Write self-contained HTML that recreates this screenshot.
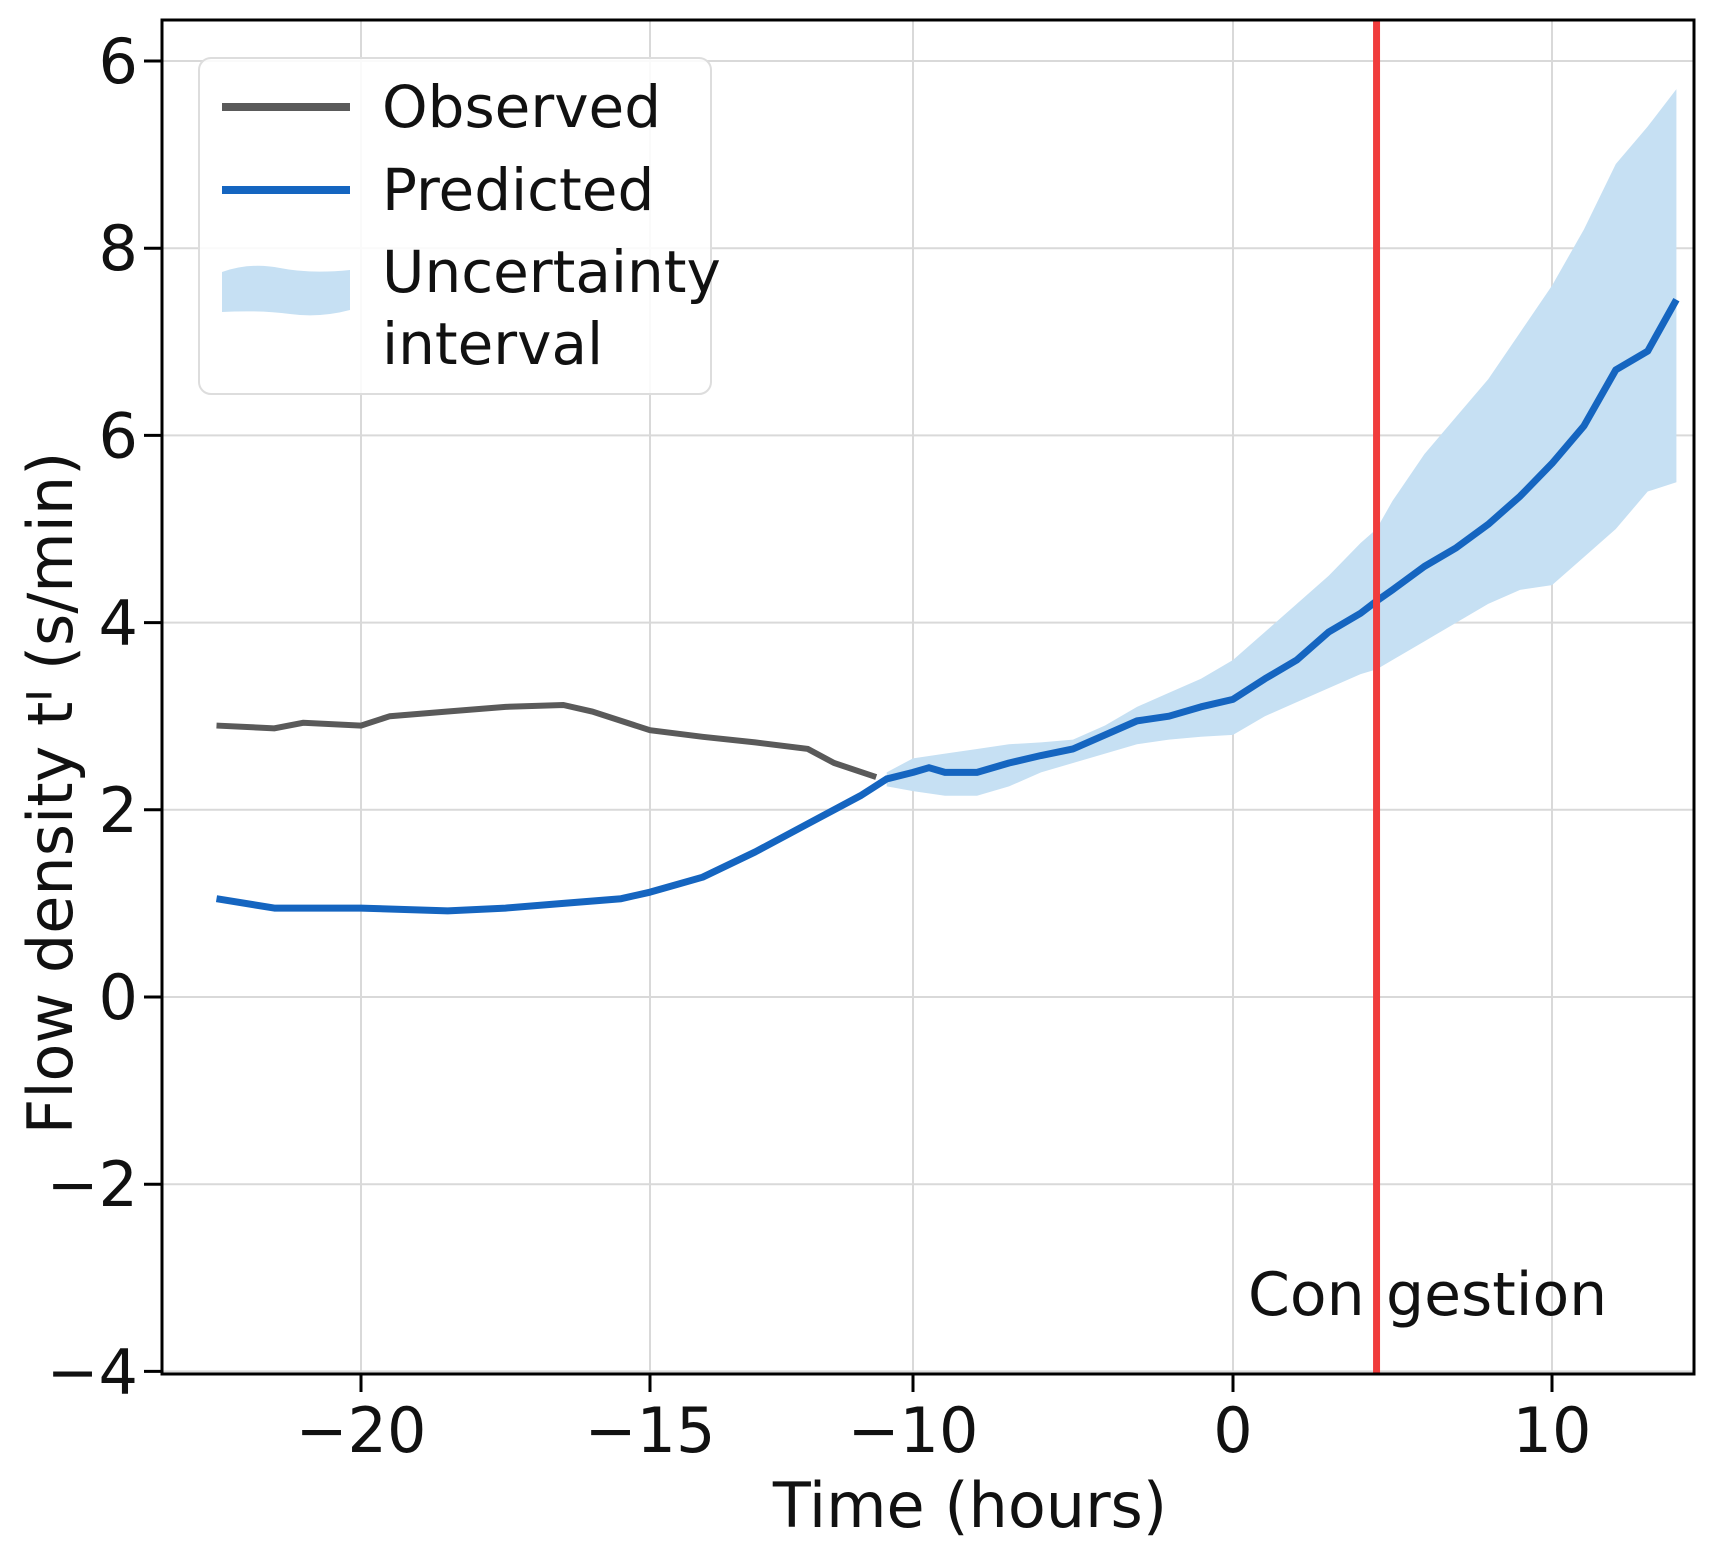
<!DOCTYPE html>
<html><head><meta charset="utf-8"><style>
body{margin:0;background:#fff}
svg text{font-family:"DejaVu Sans","Liberation Sans",sans-serif;fill:#111}
</style></head><body>
<svg width="1714" height="1554">
<g id="grid"></g>
<g id="marks"></g>
<g id="axes"></g>
<rect x="162" y="20" width="1532" height="1354" fill="none" stroke="#000" stroke-width="3"/>
<g>
<rect x="199" y="58" width="512" height="336" rx="12" fill="#fff" fill-opacity="0.85" stroke="#ddd" stroke-width="2"/>
<line x1="222" y1="107" x2="350" y2="107" stroke="#5a5a5a" stroke-width="8"/>
<text x="382" y="127" font-size="58">Observed</text>
<line x1="222" y1="190" x2="350" y2="190" stroke="#1565c0" stroke-width="8"/>
<text x="382" y="210" font-size="58">Predicted</text>
<path d="M222 272 Q250 262 280 268 T350 270 L350 310 Q320 318 290 314 T222 312 Z" fill="#c6e0f3"/>
<text x="382" y="292" font-size="58">Uncertainty</text>
<text x="382" y="364" font-size="58">interval</text>
</g>
<text x="1248" y="1315" font-size="60">Con</text>
<text x="1386" y="1315" font-size="60">gestion</text>
<text x="970" y="1527" font-size="62" text-anchor="middle">Time (hours)</text>
<text transform="translate(72,793) rotate(-90)" font-size="62" text-anchor="middle">Flow density tᑊ (s/min)</text>
</svg>
<script>
const xTicks=[-20,-15,-10,0,10];
const xTickLabels=["−20","−15","−10","0","10"];
const yTicks=[-4,-2,0,2,4,6,8,10];
const yTickLabels=["−4","−2","0","2","4","6","8","6"];
const obsX=[-22.5,-21.5,-21,-20,-19.5,-18.5,-17.5,-16.5,-16,-15,-14,-13,-12,-11.5,-10.7];
const obsY=[2.9,2.87,2.93,2.9,3.0,3.05,3.1,3.12,3.05,2.85,2.78,2.72,2.65,2.5,2.35];
const predX=[-22.5,-21.5,-20,-18.5,-17.5,-16.5,-15.5,-15,-14,-13,-12,-11,-10.5,-10,-9.5,-9,-8,-7,-6,-5,-4,-3,-2,-1,0,1,2,3,4,4.5,5,6,7,8,9,10,11,12,13,13.9];
const predY=[1.05,0.95,0.95,0.92,0.95,1.0,1.05,1.12,1.28,1.55,1.85,2.15,2.33,2.4,2.45,2.4,2.4,2.5,2.58,2.65,2.8,2.95,3.0,3.1,3.18,3.4,3.6,3.9,4.1,4.23,4.35,4.6,4.8,5.05,5.35,5.7,6.1,6.7,6.9,7.45];
const bandX=[-10.5,-10,-9,-8,-7,-6,-5,-4,-3,-2,-1,0,1,2,3,4,4.5,5,6,7,8,9,10,11,12,13,13.9];
const bandHi=[2.4,2.55,2.6,2.65,2.7,2.72,2.75,2.9,3.1,3.25,3.4,3.6,3.9,4.2,4.5,4.85,5.0,5.3,5.8,6.2,6.6,7.1,7.6,8.2,8.9,9.3,9.7];
const bandLo=[2.25,2.2,2.15,2.15,2.25,2.4,2.5,2.6,2.7,2.75,2.78,2.8,3.0,3.15,3.3,3.45,3.5,3.6,3.8,4.0,4.2,4.35,4.4,4.7,5.0,5.4,5.5];
const xTickPx=[361,650,913,1233,1552];
function sx(v){
  if(v<=xTicks[0]) return xTickPx[0]+(v-xTicks[0])*(xTickPx[1]-xTickPx[0])/(xTicks[1]-xTicks[0]);
  for(let i=0;i<xTicks.length-1;i++){ if(v<=xTicks[i+1]) return xTickPx[i]+(v-xTicks[i])*(xTickPx[i+1]-xTickPx[i])/(xTicks[i+1]-xTicks[i]); }
  const n=xTicks.length-1; return xTickPx[n]+(v-xTicks[n])*(xTickPx[n]-xTickPx[n-1])/(xTicks[n]-xTicks[n-1]);
}
function sy(v){return 997-v*93.6;}
const NS="http://www.w3.org/2000/svg";
const grid=document.getElementById('grid'),marks=document.getElementById('marks'),axes=document.getElementById('axes');
function mk(t,a,p){const e=document.createElementNS(NS,t);for(const k in a)e.setAttribute(k,a[k]);p.appendChild(e);return e;}
xTicks.forEach((v,i)=>{
  const x=sx(v);
  const g=mk('line',{x1:x,x2:x,y1:20,y2:1374,stroke:'#d9d9d9','stroke-width':2},grid);
  
  
  const t=mk('line',{x1:x,x2:x,y1:1374,y2:1392,stroke:'#000','stroke-width':3},axes);
  
  
  const l=mk('text',{x:x,y:1452,'font-size':62,'text-anchor':'middle'},axes);l.textContent=xTickLabels[i];
  
  
});
yTicks.forEach((v,i)=>{
  const y=sy(v);
  const g=mk('line',{x1:162,x2:1694,y1:y,y2:y,stroke:'#d9d9d9','stroke-width':2},grid);
  
  
  const t=mk('line',{x1:144,x2:162,y1:y,y2:y,stroke:'#000','stroke-width':3},axes);
  
  
  const l=mk('text',{x:138,y:y+22,'font-size':62,'text-anchor':'end'},axes);l.textContent=yTickLabels[i];
  
  
});
let d='';bandX.forEach((v,i)=>{d+=(i?'L':'M')+sx(v)+' '+sy(bandHi[i]);});
for(let i=bandX.length-1;i>=0;i--) d+='L'+sx(bandX[i])+' '+sy(bandLo[i]);
const band=mk('path',{d:d+'Z',fill:'#c6e0f3'},marks);


const op=mk('polyline',{points:obsX.map((v,i)=>sx(v)+','+sy(obsY[i])).join(' '),fill:'none',stroke:'#5a5a5a','stroke-width':6},marks);


const pp=mk('polyline',{points:predX.map((v,i)=>sx(v)+','+sy(predY[i])).join(' '),fill:'none',stroke:'#1565c0','stroke-width':7,'stroke-linejoin':'round'},marks);


const cx=sx(4.5);
const rl=mk('line',{x1:cx,x2:cx,y1:20,y2:1374,stroke:'#f03c3c','stroke-width':7},marks);


</script>
</body></html>
